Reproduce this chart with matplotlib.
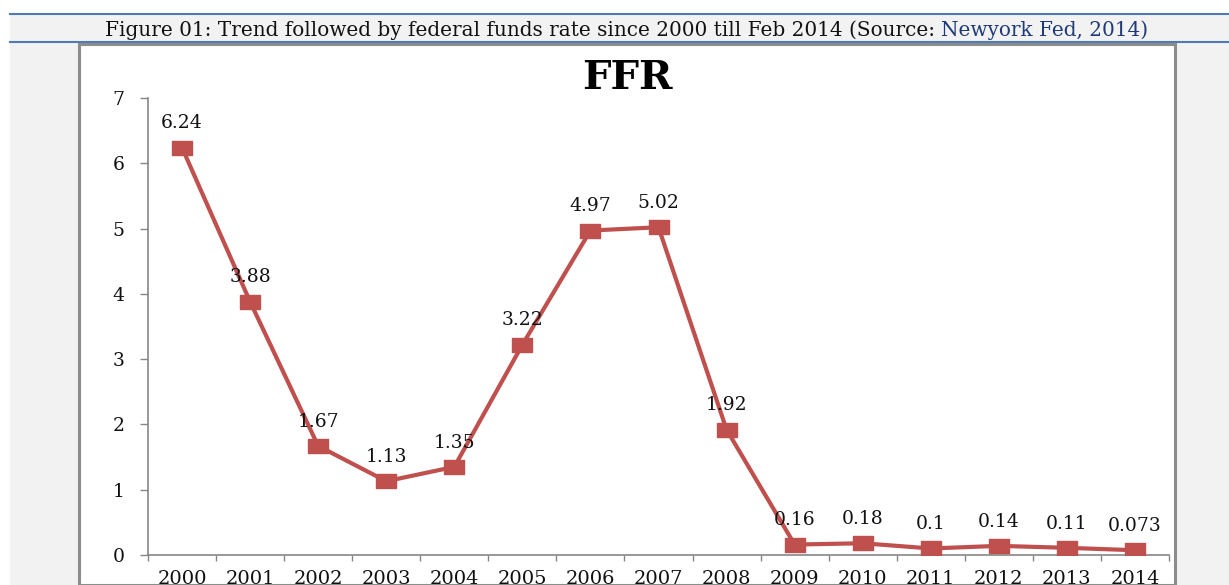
import matplotlib
matplotlib.use("Agg")
import matplotlib.pyplot as plt
from matplotlib.patches import Rectangle
from matplotlib.lines import Line2D
from matplotlib.path import Path

years = ["2000", "2001", "2002", "2003", "2004", "2005", "2006", "2007",
         "2008", "2009", "2010", "2011", "2012", "2013", "2014"]
ffr = [6.24, 3.88, 1.67, 1.13, 1.35, 3.22, 4.97, 5.02, 1.92, 0.16, 0.18,
       0.1, 0.14, 0.11, 0.073]
labels = ["6.24", "3.88", "1.67", "1.13", "1.35", "3.22", "4.97", "5.02",
          "1.92", "0.16", "0.18", "0.1", "0.14", "0.11", "0.073"]
yticks = [0, 1, 2, 3, 4, 5, 6, 7]
chart_title = "FFR"
caption_black = "Figure 01: Trend followed by federal funds rate since 2000 till Feb 2014 (Source: "
caption_blue = "Newyork Fed, 2014)"

W, H = 1229, 585
fig = plt.figure(figsize=(W / 100, H / 100), dpi=100)
fig.patch.set_facecolor("white")

def fx(px):
    return px / W

def fy(py):
    return 1 - py / H

# page gray background
fig.patches.append(Rectangle((fx(10), 0), 1 - fx(10), fy(13), transform=fig.transFigure,
                             facecolor="#f2f2f2", edgecolor="none", zorder=0))
# blue rules of caption band
for yy in (13.5, 41.5):
    fig.lines.append(Line2D([fx(10), 1], [fy(yy), fy(yy)], transform=fig.transFigure,
                            color="#4f7bb5", lw=1.5, zorder=1))
# chart box
fig.patches.append(Rectangle((fx(79), 0), fx(1175) - fx(79), fy(44), transform=fig.transFigure,
                             facecolor="white", edgecolor="#8c8c8c", lw=2.2, zorder=1))

# caption text (two colours)
cap_font = dict(family="DejaVu Serif", size=14.4)
t1 = fig.text(fx(105), fy(35.5), caption_black, color="#111111", ha="left", va="baseline", **cap_font)
fig.canvas.draw()
r = fig.canvas.get_renderer()
bb = t1.get_window_extent(renderer=r)
t2 = fig.text(bb.x1 / fig.bbox.width, fy(35.5), caption_blue, color="#1f3a78",
              ha="left", va="baseline", **cap_font)

# axes
ax = fig.add_axes([fx(148), fy(555), fx(1169) - fx(148), fy(98) - fy(555)])
ax.set_facecolor("white")
ax.set_zorder(2)
ax.patch.set_alpha(0)

x = list(range(len(years)))
rect = Path([(-1.0, -0.72), (1.0, -0.72), (1.0, 0.72), (-1.0, 0.72), (-1.0, -0.72)],
            [Path.MOVETO, Path.LINETO, Path.LINETO, Path.LINETO, Path.CLOSEPOLY])
ax.plot(x, ffr, color="#c0504d", lw=3.0, marker=rect, markersize=15,
        markerfacecolor="#c0504d", markeredgecolor="#c0504d", zorder=3)

for xi, yi, lab in zip(x, ffr, labels):
    ax.annotate(lab, (xi, yi), xytext=(0, 17.5), textcoords="offset points",
                ha="center", va="center", family="DejaVu Serif", fontsize=13.5,
                color="#111111", zorder=4)

ax.set_xlim(-0.5, len(years) - 0.5)
ax.set_ylim(0, 7)
ax.set_yticks(yticks)
ax.set_yticklabels([str(v) for v in yticks])
ax.set_xticks([i - 0.5 for i in range(len(years) + 1)], minor=False)
ax.set_xticklabels([""] * (len(years) + 1))
ax.set_xticks(x, minor=True)
ax.set_xticklabels(years, minor=True)
ax.tick_params(axis="x", which="major", length=4, width=1, color="#868686", direction="out")
ax.tick_params(axis="x", which="minor", length=0, pad=11,
               labelsize=14, labelcolor="#111111")
ax.tick_params(axis="y", length=6, width=1, color="#868686", direction="out",
               pad=11, labelsize=13.5, labelcolor="#111111")
for lab in ax.get_xticklabels(minor=True) + ax.get_yticklabels():
    lab.set_family("DejaVu Serif")
for s in ("top", "right"):
    ax.spines[s].set_visible(False)
for s in ("left", "bottom"):
    ax.spines[s].set_color("#868686")
    ax.spines[s].set_linewidth(1.2)

fig.text(fx(627), fy(78), chart_title, ha="center", va="center", family="DejaVu Serif",
         fontweight="bold", fontsize=29, color="#000000", zorder=5)

fig.savefig("out.png", dpi=100)
